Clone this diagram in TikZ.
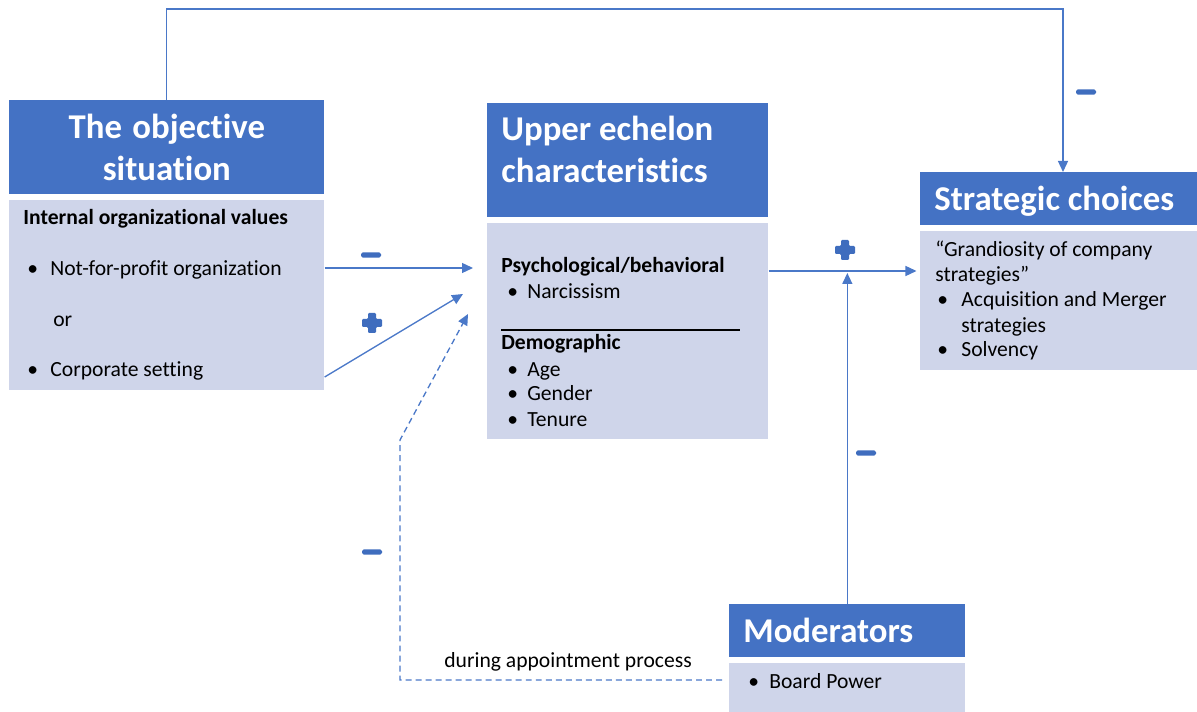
\documentclass[tikz,border=0pt]{standalone}
\usepackage{fontspec}
\setmainfont{Carlito}[Ligatures=NoCommon]
\usepackage{tikz}
\usetikzlibrary{arrows.meta}

\definecolor{headblue}{HTML}{4472C4}
\definecolor{bodyblue}{HTML}{CFD5EA}
\definecolor{lineblue}{HTML}{4A78C8}
\definecolor{signblue}{HTML}{3F6DBE}

\newcommand\headfont{\fontsize{19.8}{23.8}\selectfont\bfseries}
\newcommand\boxfont{\fontsize{12.3}{14}\selectfont}
\newcommand\blt[2][0.46cm]{\makebox[#1][l]{\textbullet}#2}

\tikzset{
    head/.style={fill=headblue, text=white, font=\headfont, inner ysep=0pt, inner xsep=0.28cm, anchor=north west,
        text height=0.5cm, execute at begin node={\spaceskip=0pt\relax}},
    body/.style={fill=bodyblue, inner sep=0pt, anchor=north west},
    txt/.style={anchor=base west, inner sep=0pt, font=\boxfont, text=black},
    flow/.style={draw=lineblue, line width=0.75pt, -{Triangle[length=0.22cm,width=0.2cm]}},
    plussign/.pic={
        \fill[signblue, rounded corners=0.7pt] (-4,-10) -- (4,-10) -- (4,-4) -- (10,-4) -- (10,4) -- (4,4)
            -- (4,10) -- (-4,10) -- (-4,4) -- (-10,4) -- (-10,-4) -- (-4,-4) -- cycle;
    },
    minussign/.pic={
        \fill[signblue, rounded corners=1pt] (-10,-2.6) rectangle (10,2.6);
    }
}

\begin{document}
\begin{tikzpicture}[x=0.02cm,y=-0.02cm]
\useasboundingbox (0,0) rectangle (1197,712);

% boxes
\node[head, minimum width=6.3cm, minimum height=1.88cm, text width=5.74cm, align=center, text depth=0.85cm] (objhead) at (9,100) {The objective\\situation};
\node[body, minimum width=6.3cm, minimum height=3.8cm] (objbody) at (9,200) {};
\node[head, minimum width=5.62cm, minimum height=2.28cm, text width=5.06cm, align=left, text depth=1.3cm] (uehead) at (487,103) {Upper echelon\\characteristics};
\node[body, minimum width=5.62cm, minimum height=4.32cm] (uebody) at (487,223) {};
\node[head, minimum width=5.54cm, minimum height=1.06cm, text width=4.98cm, align=left, text depth=0.04cm] (schead) at (920,172) {Strategic choices};
\node[body, minimum width=5.54cm, minimum height=2.78cm] (scbody) at (920,231) {};
\node[head, minimum width=4.72cm, minimum height=1.06cm, text width=4.16cm, align=left, text depth=0.04cm] (modhead) at (729,604) {Moderators};
\node[body, minimum width=4.72cm, minimum height=0.98cm] (modbody) at (729,663) {};

% box texts
\node[txt] (ival) at (23,225) {\textbf{Internal organizational values}};
\node[txt] (nfp) at (27,276) {\blt{Not-for-profit organization}};
\node[txt] (or) at (53,327) {or};
\node[txt] (corp) at (27,377) {\blt{Corporate setting}};

\node[txt] (psych) at (501,273) {\textbf{Psychological/behavioral}};
\node[txt] (narc) at (507,299) {\blt[0.4cm]{Narcissism}};
\draw[line width=0.6pt] (501,330) -- (740,330);
\node[txt] (demo) at (501,350) {\textbf{Demographic}};
\node[txt] (age) at (507,377) {\blt[0.4cm]{Age}};
\node[txt] (gender) at (507,401) {\blt[0.4cm]{Gender}};
\node[txt] (tenure) at (507,427) {\blt[0.4cm]{Tenure}};

\node[txt] (grand) at (935,257) {``Grandiosity of company};
\node[txt] (grand2) at (935,282) {strategies''};
\node[txt] (acq) at (937,307) {\blt[0.48cm]{Acquisition and Merger}};
\node[txt] (acq2) at (961,333) {strategies};
\node[txt] (solv) at (937,357) {\blt[0.48cm]{Solvency}};

\node[txt] (board) at (748,688) {\blt[0.42cm]{Board Power}};
\node[txt] (appoint) at (444,667) {during appointment process};

% connectors
\coordinate (tr) at (1063,9);
\coordinate (in1) at (473,268);
\coordinate (in2) at (463,294);
\coordinate (in3) at (468,314);
\coordinate (bend1) at (400,680);
\coordinate (bend2) at (400,440);

\draw[flow] (objhead.north) |- (tr) -- (tr |- schead.north);
\draw[flow] (objbody.east |- 0,268) -- (in1);
\draw[flow] (objbody.east |- 0,377) -- (in2);
\draw[flow, dash pattern=on 3.4pt off 2.3pt, shorten <=0.14cm] (modbody.west |- bend1) -- (bend1) -- (bend2) -- (in3);
\draw[flow, shorten >=2pt] (uebody.east |- 0,271) -- (scbody.west |- 0,271);
\draw[flow] (modhead.north) -- (modhead.north |- 0,273);

% signs
\pic at (371,255) {minussign};
\pic at (372,323) {plussign};
\pic at (372,552) {minussign};
\pic at (845,250) {plussign};
\pic at (866,453) {minussign};
\pic at (1086,92) {minussign};
\end{tikzpicture}
\end{document}
